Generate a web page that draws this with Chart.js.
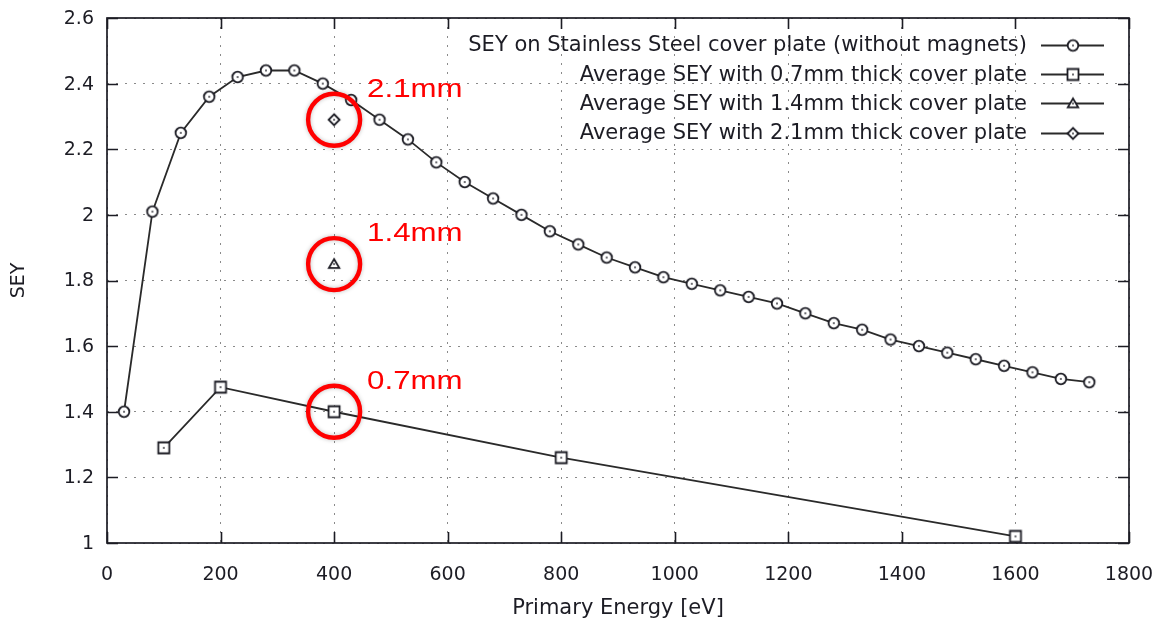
<!DOCTYPE html>
<html>
<head>
<meta charset="utf-8">
<title>SEY vs primary energy</title>
<script src="https://cdn.jsdelivr.net/npm/chart.js@4.4.1/dist/chart.umd.min.js"></script>
<style>
  html, body { margin: 0; padding: 0; background: #fff; }
  #wrap { width: 1161px; height: 629px; }
</style>
</head>
<body>
<div id="wrap"><canvas id="c" width="1161" height="629"></canvas></div>
<script>
// Measured SEY of the stainless steel cover plate (no magnets)
const plateEnergy = [30, 80, 130, 180, 230, 280, 330, 380, 430, 480, 530, 580, 630, 680, 730, 780, 830, 880,
  930, 980, 1030, 1080, 1130, 1180, 1230, 1280, 1330, 1380, 1430, 1480, 1530, 1580, 1630, 1680, 1730];
const plateSey = [1.40, 2.01, 2.25, 2.36, 2.42, 2.44, 2.44, 2.40, 2.35, 2.29, 2.23, 2.16, 2.10, 2.05, 2.00, 1.95, 1.91, 1.87,
  1.84, 1.81, 1.79, 1.77, 1.75, 1.73, 1.70, 1.67, 1.65, 1.62, 1.60, 1.58, 1.56, 1.54, 1.52, 1.50, 1.49];

// Averaged SEY for each cover plate thickness
const energy07 = [100, 200, 400, 800, 1600];
const sey07 = [1.29, 1.475, 1.40, 1.26, 1.02];
const energy14 = [400];
const sey14 = [1.85];
const energy21 = [400];
const sey21 = [2.29];

const seriesNames = [
  'SEY on Stainless Steel cover plate (without magnets)',
  'Average SEY with 0.7mm thick cover plate',
  'Average SEY with 1.4mm thick cover plate',
  'Average SEY with 2.1mm thick cover plate'
];
const markerKinds = ['circle', 'square', 'triangle', 'diamond'];

// Highlighted points: thickness label next to each averaged value at 400 eV
const noteEnergy = [400, 400, 400];
const noteSey = [sey21[0], sey14[0], sey07[2]];
const noteText = ['2.1mm', '1.4mm', '0.7mm'];

const xTicks = [0, 200, 400, 600, 800, 1000, 1200, 1400, 1600, 1800];
const yTicks = [1, 1.2, 1.4, 1.6, 1.8, 2, 2.2, 2.4, 2.6];
const xTickLabels = ['0', '200', '400', '600', '800', '1000', '1200', '1400', '1600', '1800'];
const yTickLabels = ['1', '1.2', '1.4', '1.6', '1.8', '2', '2.2', '2.4', '2.6'];

const INK = '#1c1c24';
const LINE = '#2a2a2a';
const FONT = 'DejaVu Sans';

function toPoints(xs, ys) { return xs.map((x, i) => ({ x: x, y: ys[i] })); }

// Open marker with a dot in the middle
function makeMarker(kind) {
  const s = 20;
  const c = document.createElement('canvas');
  c.width = s; c.height = s;
  const g = c.getContext('2d');
  g.translate(s / 2, s / 2);
  g.lineWidth = 1.8;
  g.strokeStyle = INK;
  g.fillStyle = '#fff';
  g.beginPath();
  if (kind === 'circle') {
    g.arc(0, 0, 5.3, 0, Math.PI * 2);
  } else if (kind === 'square') {
    g.rect(-5.5, -5.5, 11, 11);
  } else if (kind === 'triangle') {
    g.moveTo(0, -5); g.lineTo(5.2, 3.8); g.lineTo(-5.2, 3.8); g.closePath();
  } else {
    g.moveTo(0, -5.5); g.lineTo(5.5, 0); g.lineTo(0, 5.5); g.lineTo(-5.5, 0); g.closePath();
  }
  g.fill();
  g.stroke();
  g.fillStyle = INK;
  g.fillRect(-0.8, -0.8, 1.6, 1.6);
  return c;
}
const markers = markerKinds.map(makeMarker);

function series(label, data, marker) {
  return {
    label: label,
    data: data,
    showLine: true,
    borderColor: LINE,
    borderWidth: 1.8,
    pointStyle: marker,
    pointRadius: 6,
    pointHoverRadius: 6,
    tension: 0
  };
}

// Plot frame with inward ticks on all four sides, plus the tick labels
const framePlugin = {
  id: 'frame',
  beforeDatasetsDraw(chart) {
    const { ctx, chartArea: a, scales } = chart;
    const t = 11;
    ctx.save();
    ctx.strokeStyle = INK;
    ctx.lineWidth = 1.6;
    ctx.beginPath();
    xTicks.forEach(v => {
      const x = Math.round(scales.x.getPixelForValue(v)) + 0.5;
      ctx.moveTo(x, a.bottom); ctx.lineTo(x, a.bottom - t);
      ctx.moveTo(x, a.top); ctx.lineTo(x, a.top + t);
    });
    yTicks.forEach(v => {
      const y = Math.round(scales.y.getPixelForValue(v)) + 0.5;
      ctx.moveTo(a.left, y); ctx.lineTo(a.left + t, y);
      ctx.moveTo(a.right, y); ctx.lineTo(a.right - t, y);
    });
    ctx.stroke();
    ctx.lineWidth = 1.7;
    ctx.strokeRect(a.left, a.top, a.right - a.left, a.bottom - a.top);

    ctx.fillStyle = INK;
    ctx.font = '19px "' + FONT + '"';
    ctx.textBaseline = 'middle';
    ctx.textAlign = 'center';
    xTicks.forEach((v, i) => {
      ctx.fillText(xTickLabels[i], scales.x.getPixelForValue(v), a.bottom + 32);
    });
    ctx.textAlign = 'right';
    yTicks.forEach((v, i) => {
      ctx.fillText(yTickLabels[i], a.left - 13, scales.y.getPixelForValue(v) + 1);
    });
    ctx.restore();
  }
};

// Key in the upper right: right-aligned names followed by a line sample
const keyPlugin = {
  id: 'key',
  afterDatasetsDraw(chart) {
    const ctx = chart.ctx;
    const textRight = 1027, lineL = 1041, lineR = 1104, top = 45, step = 29.2;
    ctx.save();
    ctx.font = '21px "' + FONT + '"';
    ctx.fillStyle = INK;
    ctx.textAlign = 'right';
    ctx.textBaseline = 'middle';
    chart.data.datasets.forEach((ds, i) => {
      const y = top + i * step;
      ctx.fillText(ds.label, textRight, y + 1);
      ctx.strokeStyle = LINE;
      ctx.lineWidth = 1.8;
      ctx.beginPath();
      ctx.moveTo(lineL, Math.round(y) + 0.5);
      ctx.lineTo(lineR, Math.round(y) + 0.5);
      ctx.stroke();
      const m = markers[i];
      ctx.drawImage(m, Math.round((lineL + lineR) / 2 - m.width / 2), Math.round(y - m.height / 2) + 0.5);
    });
    ctx.restore();
  }
};

// Red rings around the averaged values with their thickness labels
const notePlugin = {
  id: 'notes',
  afterDatasetsDraw(chart) {
    const { ctx, scales } = chart;
    ctx.save();
    noteEnergy.forEach((e, i) => {
      const px = scales.x.getPixelForValue(e);
      const py = scales.y.getPixelForValue(noteSey[i]);
      ctx.save();
      ctx.shadowColor = 'rgba(0,0,0,0.25)';
      ctx.shadowBlur = 4;
      ctx.strokeStyle = '#ff0000';
      ctx.lineWidth = 4.4;
      ctx.beginPath();
      ctx.arc(px, py, 26, 0, Math.PI * 2);
      ctx.stroke();
      ctx.restore();
      ctx.save();
      ctx.fillStyle = '#ff0000';
      ctx.font = '25px "Liberation Sans"';
      ctx.textAlign = 'left';
      ctx.textBaseline = 'alphabetic';
      ctx.translate(px + 33, py - 23);
      ctx.scale(1.25, 1);
      ctx.fillText(noteText[i], 0, 0);
      ctx.restore();
    });
    ctx.restore();
  }
};

new Chart(document.getElementById('c'), {
  type: 'scatter',
  data: {
    datasets: [
      series(seriesNames[0], toPoints(plateEnergy, plateSey), markers[0]),
      series(seriesNames[1], toPoints(energy07, sey07), markers[1]),
      series(seriesNames[2], toPoints(energy14, sey14), markers[2]),
      series(seriesNames[3], toPoints(energy21, sey21), markers[3])
    ]
  },
  options: {
    responsive: false,
    animation: false,
    devicePixelRatio: 1,
    layout: { padding: { top: 18, right: 32, left: 0, bottom: 0 } },
    plugins: { legend: { display: false }, tooltip: { enabled: false } },
    scales: {
      x: {
        type: 'linear',
        min: 0, max: 1800,
        afterBuildTicks: s => { s.ticks = xTicks.map(v => ({ value: v })); },
        afterFit: s => { s.height = 86; },
        grid: { color: '#8a8a8a', lineWidth: 1, drawTicks: false },
        border: { display: false, dash: [2, 7] },
        ticks: { display: false },
        title: { display: true, text: 'Primary Energy [eV]', font: { family: FONT, size: 21 }, color: INK,
                 padding: { top: 0, bottom: 8 } }
      },
      y: {
        type: 'linear',
        min: 1, max: 2.6,
        afterBuildTicks: s => { s.ticks = yTicks.map(v => ({ value: v })); },
        afterFit: s => { s.width = 107; },
        grid: { color: '#8a8a8a', lineWidth: 1, drawTicks: false },
        border: { display: false, dash: [2, 7] },
        ticks: { display: false },
        title: { display: true, text: 'SEY', font: { family: FONT, size: 19 }, color: INK,
                 padding: { top: 8, bottom: 0 } }
      }
    }
  },
  plugins: [framePlugin, keyPlugin, notePlugin]
});
</script>
</body>
</html>
